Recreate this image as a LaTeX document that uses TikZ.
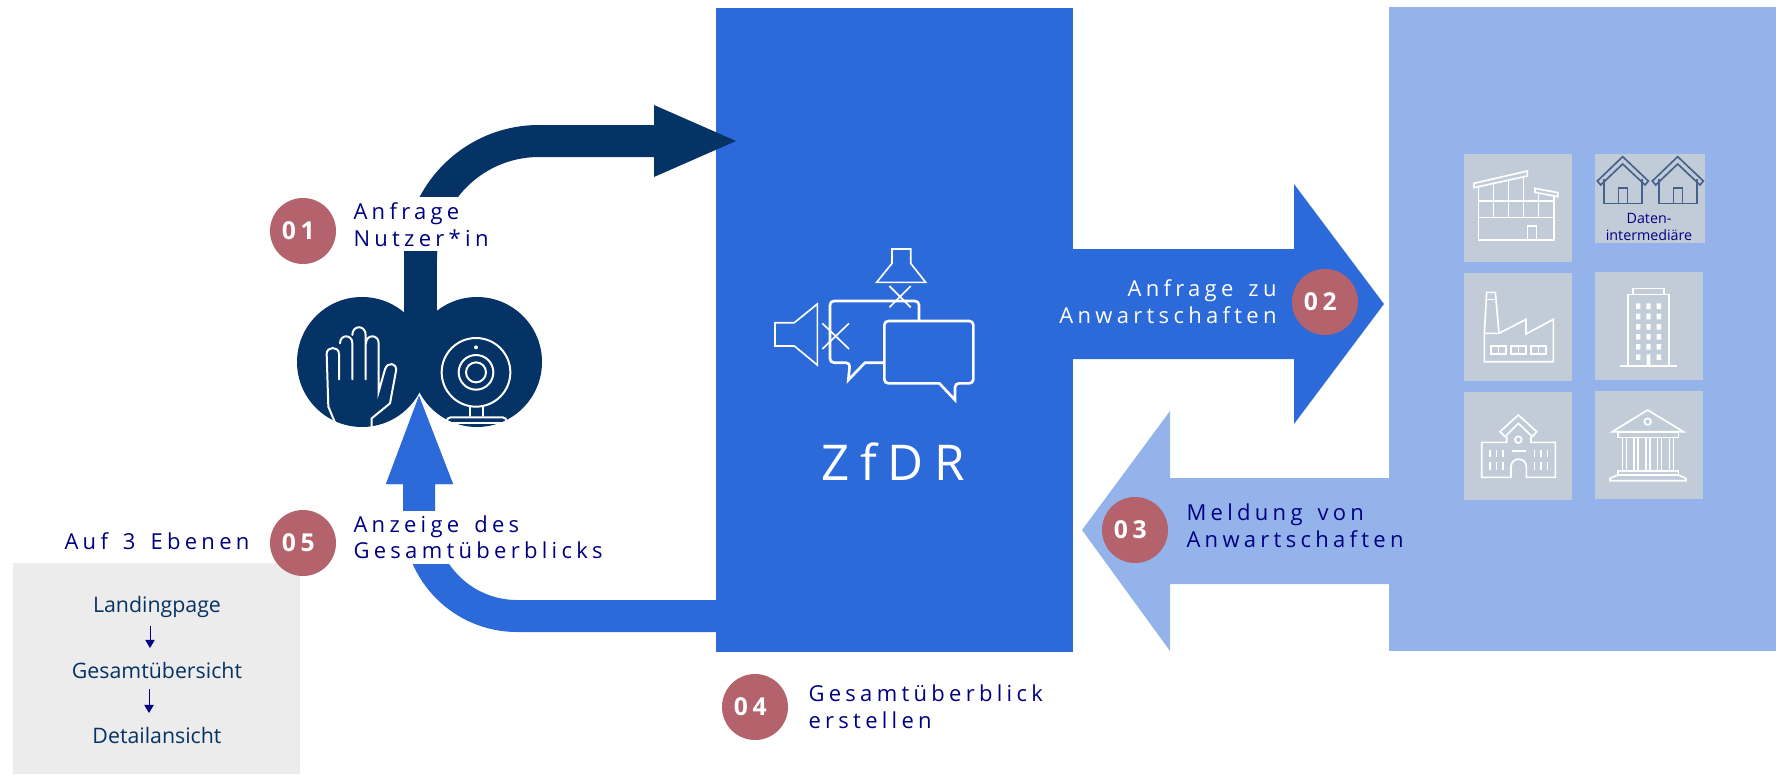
\documentclass[tikz,border=0pt]{standalone}
\usepackage{fontspec}
\usetikzlibrary{arrows.meta}
\setmainfont{Open Sans}
\newfontfamily\spacedfont[LetterSpace=19.5,WordSpace=1.5]{Open Sans}
\newfontfamily\widefont[LetterSpace=22]{Open Sans}
\definecolor{zfblue}{HTML}{2C69D9}
\definecolor{zflight}{HTML}{94B3EA}
\definecolor{zfdark}{HTML}{063365}
\definecolor{zfred}{HTML}{B4626B}
\definecolor{zfnavy}{HTML}{000080}
\definecolor{zftile}{HTML}{C2CCD9}
\definecolor{zfgrey}{HTML}{ECECEC}
\definecolor{zfhouse}{HTML}{47628A}
\tikzset{every picture/.style={line width=0.75pt}}
\tikzset{
	numdot/.style={circle,fill=zfred,text=white,minimum size=49.5pt,inner sep=0pt,font=\spacedfont\bfseries\fontsize{18.5}{18.5}\selectfont,execute at end node=\hspace{7pt}},
	steplabel/.style={text=zfnavy,align=left,anchor=west,inner sep=0pt,font=\spacedfont\fontsize{16.5}{20.5}\selectfont},
	boxlabel/.style={text=zfdark,inner sep=0pt,font=\fontsize{16}{16}\selectfont},
	iconline/.style={draw=white,line width=1.25pt,line join=miter},
	handline/.style={draw=white,line width=1.5pt,line cap=round},
	bubbleline/.style={draw=white,line width=2pt},
	houseline/.style={draw=zfhouse,line width=1.25pt},
	smallarrow/.style={draw=zfnavy,line width=0.6pt,-{Triangle[length=6pt,width=7pt]}}
}

\begin{document}
\begin{tikzpicture}[x=0.75pt,y=0.75pt,yscale=-1,xscale=1]
	\useasboundingbox (0,0) rectangle (1776,774);

	%Big blocks
	\fill [zfblue] (716,8) rectangle (1073,652);
	\fill [zflight] (1389,7) rectangle (1776,651);

	%Arrow 01
	\fill [zfdark] (404,260) arc (180:270:135) -- (654,125) -- (654,105) -- (736,141) -- (654,177) -- (654,157) -- (539,157) arc (270:180:102) -- cycle;
	\fill [white] (345,197) rectangle (510,251);
	\fill [zfdark] (404,251) rectangle (437,362);
	%Arrow 02
	\fill [zfblue] (1073,249) -- (1294,249) -- (1294,184) -- (1384,304) -- (1294,424) -- (1294,359) -- (1073,359) -- cycle;
	%Arrow 03
	\fill [zflight] (1389,478) -- (1170,478) -- (1170,411) -- (1082,530) -- (1170,651) -- (1170,584) -- (1389,584) -- cycle;
	%Arrow 05
	\fill [zfblue] (716,600) -- (517,600) arc (90:180:82) -- (435,484) -- (453,484) -- (419,396) -- (386,484) -- (403,484) -- (403,518) arc (180:90:114) -- (716,632) -- cycle;
	\fill [white] (345,511) rectangle (520,564);

	%User circles
	\fill [zfdark] (362,362) circle (65);
	\fill [zfdark] (477,362) circle (65);
	\fill [zfblue] (435,484) -- (453,484) -- (419,396) -- (386,484) -- (403,484) -- cycle;

	%Hand
	\begin{scope}[shift={(290,310)},x=0.25pt,y=0.25pt]
		\draw [handline] (138,345) -- (115,290) -- (110,132) .. controls (110,108) and (147,108) .. (147,132) -- (147,208);
		\draw [handline] (150,100) .. controls (150,72) and (187,72) .. (187,100) -- (187,208);
		\draw [handline] (187,75) .. controls (187,44) and (227,44) .. (227,75) -- (227,208);
		\draw [handline] (228,100) .. controls (228,72) and (266,72) .. (266,100) -- (266,245) -- (285,178) .. controls (292,155) and (322,157) .. (318,183) -- (300,280) -- (245,325) -- (245,350);
		%Webcam
		\draw [handline] (558,187) circle (103);
		\draw [handline] (558,187) circle (52);
		\draw [handline] (558,187) circle (30);
		\fill [white] (558,112) circle (6);
		\draw [handline] (540,290) -- (540,318);
		\draw [handline] (578,290) -- (578,318);
		\draw [handline,rounded corners=3pt] (470,338) -- (470,322) -- (650,322) -- (650,338);
		\draw [handline] (473,340) -- (647,340);
	\end{scope}

	%Grey box
	\fill [zfgrey] (13,563) rectangle (300,774);

	%Tiles
	\fill [zftile] (1464,154) rectangle (1572,262);
	\fill [zftile] (1595,154) rectangle (1705,243);
	\fill [zftile] (1464,273) rectangle (1572,381);
	\fill [zftile] (1595,272) rectangle (1703,380);
	\fill [zftile] (1464,392) rectangle (1572,500);
	\fill [zftile] (1595,391) rectangle (1703,499);

	%Building
	\begin{scope}[shift={(1455,145)},x=0.25pt,y=0.25pt]
		\draw [iconline] (57,115) -- (217,78) -- (217,93) -- (57,128) -- cycle;
		\draw [iconline] (240,130) -- (308,143) -- (308,155) -- (240,142) -- cycle;
		\draw [iconline] (70,125) -- (70,285) -- (297,285) -- (297,152);
		\draw [iconline] (70,167) -- (297,167);
		\draw [iconline] (70,217) -- (297,217);
		\draw [iconline] (115,117) -- (115,217);
		\draw [iconline] (160,106) -- (160,217);
		\draw [iconline] (205,95) -- (205,217);
		\draw [iconline] (250,142) -- (250,217);
		\draw [iconline] (217,285) -- (217,243) -- (244,243) -- (244,285);
		%Houses
		\draw [houseline] (427,108) -- (503,35) -- (580,108) -- (570,120) -- (503,57) -- (437,120) -- cycle;
		\draw [houseline] (447,102) -- (447,175) -- (560,175) -- (560,102);
		\draw [houseline] (490,175) -- (490,128) -- (517,128) -- (517,175);
		\draw [houseline] (592,108) -- (668,35) -- (745,108) -- (735,120) -- (668,57) -- (602,120) -- cycle;
		\draw [houseline] (612,102) -- (612,175) -- (725,175) -- (725,102);
		\draw [houseline] (655,175) -- (655,128) -- (682,128) -- (682,175);
	\end{scope}
	\node [text=zfnavy,align=center,inner sep=0pt,font=\fontsize{10.7}{12.8}\selectfont] (intermediaer) at (1649,227) {Daten-\\intermediäre};

	%Factory and tower
	\begin{scope}[shift={(1455,265)},x=0.25pt,y=0.25pt]
		\draw [iconline] (88,205) -- (95,82) -- (121,82) -- (132,205);
		\draw [iconline] (94,103) -- (122,103);
		\draw [iconline] (88,205) -- (88,290) -- (295,290) -- (295,163) -- (213,207) -- (213,163) -- (132,205) -- cycle;
		\draw [iconline] (107,242) rectangle (152,267);
		\draw [iconline] (130,242) -- (130,267);
		\draw [iconline] (168,242) rectangle (213,267);
		\draw [iconline] (190,242) -- (190,267);
		\draw [iconline] (228,242) rectangle (273,267);
		\draw [iconline] (250,242) -- (250,267);
		\draw [iconline] (533,88) -- (533,70) -- (627,70) -- (627,88);
		\draw [iconline] (518,302) -- (518,88) -- (642,88) -- (642,302);
		\draw [iconline] (496,303) -- (666,303);
		\fill [white] (543,115) rectangle +(13,17) (574,115) rectangle +(13,17) (605,115) rectangle +(13,17);
		\fill [white] (543,146) rectangle +(13,17) (574,146) rectangle +(13,17) (605,146) rectangle +(13,17);
		\fill [white] (543,177) rectangle +(13,17) (574,177) rectangle +(13,17) (605,177) rectangle +(13,17);
		\fill [white] (543,207) rectangle +(13,17) (574,207) rectangle +(13,17) (605,207) rectangle +(13,17);
		\fill [white] (543,237) rectangle +(13,17) (574,237) rectangle +(13,17) (605,237) rectangle +(13,17);
		\fill [white] (543,268) rectangle +(13,17) (575,268) rectangle (586,303) (605,268) rectangle +(13,17);
	\end{scope}

	%School and museum
	\begin{scope}[shift={(1455,385)},x=0.25pt,y=0.25pt]
		\draw [iconline] (135,140) -- (190,90) -- (245,140) -- (232,155) -- (190,115) -- (150,155) -- cycle;
		\draw [iconline] (155,155) -- (155,172) -- (80,172) -- (80,277) -- (168,277) -- (168,245) .. controls (168,215) and (214,215) .. (214,245) -- (214,277) -- (301,277) -- (301,172) -- (228,172) -- (228,155);
		\draw [iconline] (190,164) circle (10);
		\draw [iconline] (170,197) -- (212,197);
		\draw [iconline] (104,195) -- (104,215) (124,195) -- (124,215) (143,195) -- (143,215);
		\draw [iconline] (104,232) -- (104,254) (124,232) -- (124,254) (143,232) -- (143,254);
		\draw [iconline] (238,195) -- (238,215) (257,195) -- (257,215) (277,195) -- (277,215);
		\draw [iconline] (238,232) -- (238,254) (257,232) -- (257,254) (277,232) -- (277,254);
		\draw [iconline] (472,140) -- (578,75) -- (685,140) -- cycle;
		\draw [iconline] (578,110) circle (10);
		\draw [iconline] (488,140) rectangle (670,157);
		\draw [iconline] (502,157) -- (502,257) (514,157) -- (514,257) (537,157) -- (537,257) (549,157) -- (549,257);
		\draw [iconline] (572,157) -- (572,257) (584,157) -- (584,257);
		\draw [iconline] (607,157) -- (607,257) (619,157) -- (619,257) (643,157) -- (643,257) (655,157) -- (655,257);
		\draw [iconline] (488,257) rectangle (670,270);
		\draw [iconline] (488,270) -- (465,280) -- (465,287) -- (693,287) -- (693,280) -- (670,270);
	\end{scope}

	%Speech icon
	\begin{scope}[shift={(760,230)},x=0.25pt,y=0.25pt]
		\draw [iconline] (45,278) -- (103,278) -- (172,222) -- (172,405) -- (103,348) -- (45,348) -- cycle;
		\draw [iconline] (187,280) -- (267,357) (267,280) -- (187,357);
		\draw [iconline] (396,57) -- (452,57) -- (452,100) -- (497,157) -- (350,157) -- (396,100) -- cycle;
		\draw [iconline] (388,168) -- (452,232) (452,168) -- (388,232);
		\draw [bubbleline,rounded corners=3pt] (477,272) -- (477,213) -- (210,213) -- (210,398) -- (270,398) [sharp corners] -- (265,450) -- (315,398) -- (372,398);
		\draw [bubbleline,rounded corners=3pt] (500,273) -- (640,273) -- (640,460) -- (585,460) [sharp corners] -- (585,510) -- (538,460) [rounded corners=3pt] -- (373,460) -- (373,273) -- cycle;
	\end{scope}

	% Text Node
	\node [text=white,inner sep=0pt,font=\widefont\fontsize{37}{37}\selectfont] (zfdr) at (893,462) {ZfDR};

	\node [numdot] (num01) at (303,231) {01};
	\node [steplabel] (anfrage) at (353,225) {Anfrage\\Nutzer*in};
	\node [numdot] (num02) at (1325,302) {02};
	\node [steplabel,text=white,align=right,anchor=east] (zuanw) at (1277,302) {Anfrage zu\\Anwartschaften};
	\node [numdot] (num03) at (1135,530) {03};
	\node [steplabel] (meldung) at (1186,526) {Meldung von\\Anwartschaften};
	\node [numdot] (num04) at (755,707) {04};
	\node [steplabel] (ueberblick) at (808,707) {Gesamtüberblick\\erstellen};
	\node [numdot] (num05) at (303,543) {05};
	\node [steplabel] (anzeige) at (353,537) {Anzeige des\\[-1pt]Gesamtüberblicks};
	\node [steplabel] (ebenen) at (64,541) {Auf 3 Ebenen};

	\node [boxlabel] (landing) at (157,607) {Landingpage};
	\node [boxlabel] (gesamt) at (157,670) {Gesamtübersicht};
	\node [boxlabel] (detail) at (157,735) {Detailansicht};
	\draw [smallarrow,shorten <=6pt,shorten >=10pt] ([xshift=-5.25pt]landing.south) -- ([xshift=-5.25pt]gesamt.north);
	\draw [smallarrow,shorten <=8pt,shorten >=10pt] ([xshift=-6pt]gesamt.south) -- ([xshift=-6pt]detail.north);

\end{tikzpicture}
\end{document}
